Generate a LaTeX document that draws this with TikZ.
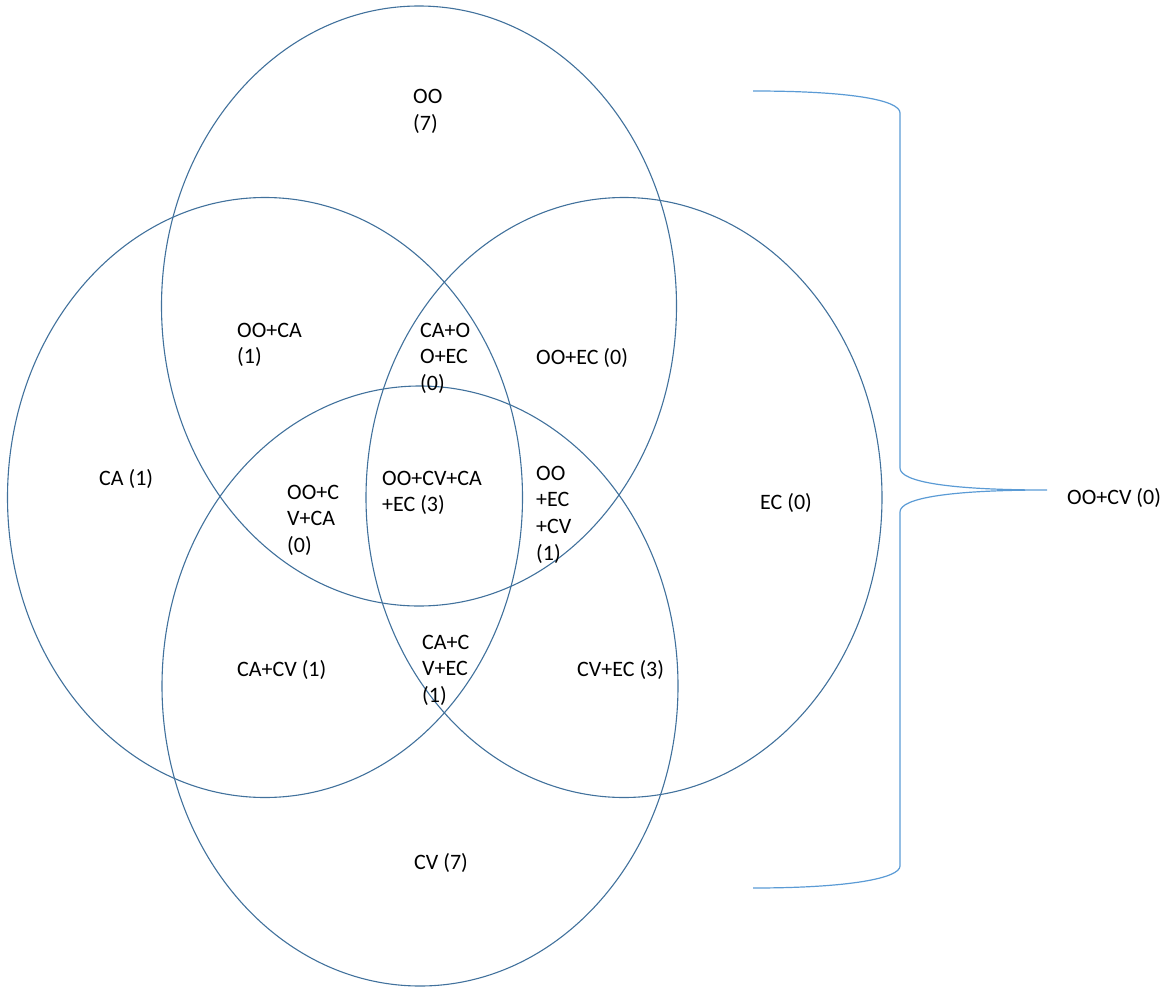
\documentclass[tikz,border=0pt]{standalone}
\usepackage{fontspec}
\setmainfont{Carlito}
\definecolor{venn}{HTML}{41719C}
\definecolor{bracec}{HTML}{5B9BD5}
\begin{document}
\begin{tikzpicture}[x=1pt,y=-1pt,
  vennline/.style={draw=venn,line width=1.1pt},
  lbl/.style={anchor=base west,inner sep=0pt,align=left,font=\fontsize{22}{26.7}\selectfont},
  bracel/.style={draw=bracec,line width=1.2pt}]
\useasboundingbox (0,0) rectangle (1169,987);
% sets
\draw[vennline] (419,306) ellipse [x radius=257.5, y radius=300];
\draw[vennline] (265,497.5) ellipse [x radius=257.5, y radius=300];
\draw[vennline] (624,497.5) ellipse [x radius=258, y radius=300];
\draw[vennline] (420,686) ellipse [x radius=258, y radius=300];
% labels (anchor = baseline of the last line)
\node[lbl] (oo) at (413,130.7) {OO\\(7)};
\node[lbl] (ooca) at (237,363.7) {OO+CA\\(1)};
\node[lbl] (caooec) at (420,390.4) {CA+O\\O+EC\\(0)};
\node[lbl] (ooec) at (536,364) {OO+EC (0)};
\node[lbl] (ca) at (99,485) {CA (1)};
\node[lbl] (oocvca) at (287,552.4) {OO+C\\V+CA\\(0)};
\node[lbl] (all) at (382,511.7) {OO+CV+CA\\+EC (3)};
\node[lbl] (ooeccv) at (536,560.1) {OO\\+EC\\+CV\\(1)};
\node[lbl] (ec) at (760,509) {EC (0)};
\node[lbl] (cacv) at (237,676) {CA+CV (1)};
\node[lbl] (cacvec) at (422,702.4) {CA+C\\V+EC\\(1)};
\node[lbl] (cvec) at (577,676) {CV+EC (3)};
\node[lbl] (cv) at (414,869) {CV (7)};
% brace
\coordinate (btop) at (753,91);
\coordinate (btip) at (1047,490);
\coordinate (bbot) at (753,888);
\draw[bracel] (btop) .. controls (850,91) and (900,100) .. (900,113)
  -- (900,468) .. controls (900,482) and (950,490) .. (btip)
  .. controls (950,490) and (900,498) .. (900,512)
  -- (900,866) .. controls (900,878) and (850,888) .. (bbot);
\node[lbl] (oocv) at (1067,504) {OO+CV (0)};
\end{tikzpicture}
\end{document}
